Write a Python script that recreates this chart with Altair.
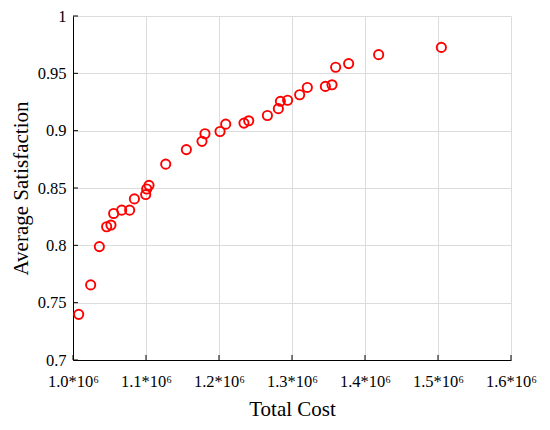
import altair as alt
import pandas as pd

cost = [1.0078e6, 1.0242e6, 1.0361e6, 1.0461e6, 1.0520e6, 1.0557e6, 1.0667e6, 1.0776e6,
        1.0841e6, 1.0996e6, 1.1010e6, 1.1041e6, 1.1270e6, 1.1553e6, 1.1767e6, 1.1808e6,
        1.2014e6, 1.2092e6, 1.2342e6, 1.2407e6, 1.2663e6, 1.2813e6, 1.2841e6, 1.2940e6,
        1.3105e6, 1.3210e6, 1.3457e6, 1.3548e6, 1.3598e6, 1.3776e6, 1.4187e6, 1.5046e6]
satisfaction = [0.7398, 0.7655, 0.7989, 0.8162, 0.8177, 0.8278, 0.8307, 0.8307,
                0.8405, 0.8443, 0.8491, 0.8523, 0.8708, 0.8835, 0.8907, 0.8973,
                0.8993, 0.9057, 0.9066, 0.9086, 0.9132, 0.9192, 0.9256, 0.9265,
                0.9313, 0.9377, 0.9386, 0.9400, 0.9553, 0.9585, 0.9663, 0.9726]
x_ticks = [1.0e6, 1.1e6, 1.2e6, 1.3e6, 1.4e6, 1.5e6, 1.6e6]
y_ticks = [0.7, 0.75, 0.8, 0.85, 0.9, 0.95, 1.0]

df = pd.DataFrame({"cost": cost, "sat": satisfaction})
xt = pd.DataFrame({"cost": x_ticks})
yt = pd.DataFrame({"sat": y_ticks})

FONT = "Liberation Serif"
xscale = alt.Scale(domain=[1.0e6, 1.6e6], nice=False, zero=False)
yscale = alt.Scale(domain=[0.7, 1.0], nice=False, zero=False)

xaxis = alt.Axis(values=x_ticks, ticks=False, tickSize=0, labelPadding=13,
                 labelOverlap=False, labelFlush=False, labelBound=False,
                 labelExpr="format(datum.value/1000000, '.1f') + '*10⁶'",
                 titlePadding=9)
yaxis = alt.Axis(values=y_ticks, ticks=False, tickSize=0, labelPadding=7,
                 labelOverlap=False, labelFlush=False, labelBound=False,
                 labelExpr="format(datum.value, '.2~f')", titlePadding=6)

H = 344

points = alt.Chart(df).mark_point(
    shape="circle", filled=False, color="#ff0000", size=85, strokeWidth=1.9, opacity=1
).encode(
    x=alt.X("cost:Q", scale=xscale, title="Total Cost", axis=xaxis),
    y=alt.Y("sat:Q", scale=yscale, title="Average Satisfaction", axis=yaxis),
)

xtick_marks = alt.Chart(xt).mark_rule(color="black", strokeWidth=1).encode(
    x=alt.X("cost:Q", scale=xscale, title="Total Cost", axis=xaxis),
    y=alt.value(H),
    y2=alt.value(H - 5),
)
ytick_marks = alt.Chart(yt).mark_rule(color="black", strokeWidth=1).encode(
    y=alt.Y("sat:Q", scale=yscale, title="Average Satisfaction", axis=yaxis),
    x=alt.value(0),
    x2=alt.value(5),
)

chart = alt.layer(points, xtick_marks, ytick_marks).properties(
    width=438, height=H,
    autosize=alt.AutoSizeParams(type="none"),
    padding={"left": 65, "top": 8, "right": 31, "bottom": 62},
).configure_view(stroke=None).configure_axis(
    labelFont=FONT, titleFont=FONT, labelFontSize=16.5, titleFontSize=21,
    labelColor="black", titleColor="black", titleFontWeight="normal",
    domainColor="black", domainWidth=1, gridColor="#dcdcdc", gridWidth=1,
)

chart.save("out.html", embed_options={"renderer": "svg", "actions": False})
